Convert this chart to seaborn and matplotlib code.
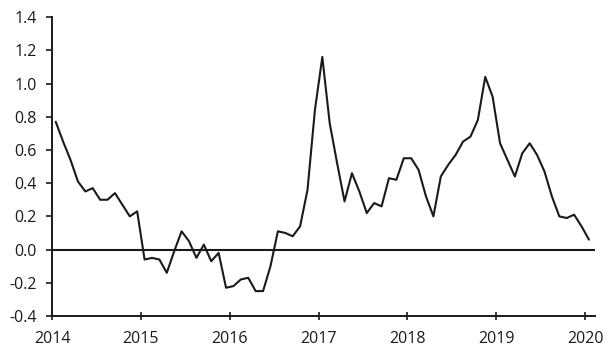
import numpy as np
import pandas as pd
import matplotlib
matplotlib.use("Agg")
import matplotlib.pyplot as plt
import seaborn as sns

# monthly values, Jan 2014 .. Jan 2020
years = [2014, 2015, 2016, 2017, 2018, 2019, 2020]
vals_2014 = [0.77, 0.65, 0.54, 0.41, 0.35, 0.37, 0.30, 0.30, 0.34, 0.27, 0.20, 0.23]
vals_2015 = [-0.06, -0.05, -0.06, -0.14, -0.01, 0.11, 0.05, -0.05, 0.03, -0.07, -0.02, -0.23]
vals_2016 = [-0.22, -0.18, -0.17, -0.25, -0.25, -0.10, 0.11, 0.10, 0.08, 0.14, 0.36, 0.84]
vals_2017 = [1.16, 0.76, 0.52, 0.29, 0.46, 0.35, 0.22, 0.28, 0.26, 0.43, 0.42, 0.55]
vals_2018 = [0.55, 0.48, 0.32, 0.20, 0.44, 0.51, 0.57, 0.65, 0.68, 0.78, 1.04, 0.92]
vals_2019 = [0.64, 0.54, 0.44, 0.58, 0.64, 0.57, 0.47, 0.32, 0.20, 0.19, 0.21, 0.14]
vals_2020 = [0.06]

yticks = [-0.4, -0.2, 0.0, 0.2, 0.4, 0.6, 0.8, 1.0, 1.2, 1.4]

values = vals_2014 + vals_2015 + vals_2016 + vals_2017 + vals_2018 + vals_2019 + vals_2020
# points sit mid-month on a year axis
t = [2014 + (i + 0.5) / 12 for i in range(len(values))]
df = pd.DataFrame({"t": t, "value": values})

sns.set_style("ticks")
plt.rcParams["font.family"] = ["Open Sans", "DejaVu Sans"]
plt.rcParams["axes.unicode_minus"] = False

fig = plt.figure(figsize=(6.09, 3.49), dpi=100)
ax = fig.add_axes([0.0854, 0.0946, 0.8916, 0.8564])

sns.lineplot(data=df, x="t", y="value", ax=ax, color="#1a1a1a", linewidth=1.5)
ax.axhline(0, color="#1a1a1a", linewidth=1.5)

ax.set_xlim(2014, 2020.11)
ax.set_ylim(-0.4, 1.4)
ax.set_xticks(years)
ax.set_xticklabels([str(y) for y in years])
ax.set_yticks(yticks)
ax.set_yticklabels([f"{v:.1f}" for v in yticks])
ax.set_xlabel("")
ax.set_ylabel("")

for s in ["top", "right"]:
    ax.spines[s].set_visible(False)
for s in ["left", "bottom"]:
    ax.spines[s].set_color("#1a1a1a")
    ax.spines[s].set_linewidth(1.4)

ax.tick_params(axis="x", direction="inout", length=6, width=1.2, labelsize=11.5, pad=8, colors="#1a1a1a")
ax.tick_params(axis="y", direction="out", length=4, width=1.2, labelsize=11.5, pad=7, colors="#1a1a1a")

fig.savefig("out.png", dpi=100)
